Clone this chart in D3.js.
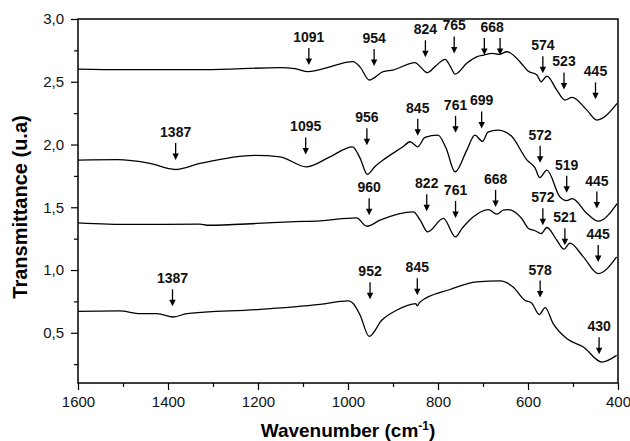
<!DOCTYPE html>
<html>
<head>
<meta charset="utf-8">
<script src="https://cdn.jsdelivr.net/npm/d3@7"></script>
<style>
  body { margin: 0; background: #fff; }
  svg { display: block; font-family: "Liberation Sans", Arial, sans-serif; }
</style>
</head>
<body>
<div class="svg"></div>
<script>
// spectra, top to bottom (wavenumber, transmittance)
const waves1 = [1600,1500,1318,1151,1118,1089,1062,989,973,953,922,900,851,838,824,804,784,773,762,736,713,698,680,664,647,618,600,580,571,558,536,518,502,469,447,402];
const trans1 = [2.601,2.596,2.596,2.612,2.605,2.581,2.597,2.660,2.617,2.514,2.580,2.593,2.653,2.615,2.572,2.630,2.679,2.625,2.561,2.647,2.700,2.713,2.726,2.718,2.739,2.660,2.585,2.553,2.500,2.545,2.434,2.354,2.376,2.274,2.195,2.328];

const waves2 = [1600,1513,1440,1384,1329,1207,1151,1093,1040,990,973,957,940,922,878,862,845,829,800,782,762,736,718,701,689,667,638,602,584,574,558,529,514,502,469,444,402];
const trans2 = [1.876,1.879,1.849,1.801,1.849,1.913,1.902,1.822,1.902,1.982,1.890,1.762,1.825,1.876,1.982,2.022,1.982,2.057,2.075,1.970,1.782,1.955,2.075,2.025,2.099,2.115,2.071,1.876,1.812,1.736,1.796,1.583,1.553,1.569,1.451,1.389,1.530];

const waves3 = [1600,1484,1329,1313,1202,1129,1062,981,958,929,855,840,823,788,761,747,722,688,670,655,644,614,599,584,571,558,536,520,507,477,444,403];
const trans3 = [1.376,1.363,1.365,1.357,1.371,1.384,1.392,1.415,1.349,1.397,1.463,1.400,1.304,1.411,1.264,1.330,1.423,1.482,1.445,1.477,1.482,1.411,1.331,1.313,1.290,1.339,1.238,1.166,1.214,1.105,0.972,1.105];

const waves4 = [1600,1507,1462,1424,1388,1358,1202,1062,999,989,973,953,925,892,849,846,840,773,714,662,633,607,592,575,562,544,514,477,436,403];
const trans4 = [0.671,0.674,0.653,0.653,0.626,0.653,0.685,0.727,0.754,0.735,0.640,0.472,0.600,0.680,0.733,0.715,0.746,0.845,0.905,0.913,0.865,0.759,0.738,0.645,0.700,0.573,0.454,0.387,0.267,0.320];

// peak labels: text, arrow wavenumber(s), arrow tip transmittance
const marks1 = [["1091",[1087],2.633],["954",[942],2.625],["824",[828],2.695],["765",[764],2.726],["668",[697,662],2.713],["574",[567],2.567],["523",[520],2.439],["445",[450],2.360]];
const marks2 = [["1387",[1383],1.876],["1095",[1094],1.921],["956",[958],1.995],["845",[845],2.069],["761",[761],2.093],["699",[703],2.128],["572",[573],1.854],["519",[514],1.615],["445",[447],1.490]];
const marks3 = [["960",[953],1.437],["822",[825],1.469],["761",[761],1.415],["668",[672],1.503],["572",[567],1.357],["521",[518],1.198],["445",[444],1.065]];
const marks4 = [["1387",[1390],0.711],["952",[951],0.767],["845",[846],0.799],["578",[573],0.781],["430",[442],0.329]];

const xMajor = [1600,1400,1200,1000,800,600,400];
const xMinor = [1500,1300,1100,900,700,500];
const yMajor = [0.5,1.0,1.5,2.0,2.5,3.0];
const yMinor = [0.25,0.75,1.25,1.75,2.25,2.75];

const width = 630, height = 441;
const plotL = 78, plotT = 19, plotR = 618, plotB = 383;

const svg = d3.select('.svg').append('svg').attr('width', width).attr('height', height);

const scaleX = d3.scaleLinear().domain([1600, 400]).range([plotL, plotR]);
const scaleY = d3.scaleLinear().domain([0.1, 3.0]).range([plotB, plotT]);
const fmt = d => d3.format('.1f')(d).replace('.', ',');

// minor ticks first, then major ticks with labels
svg.append('g').attr('transform', 'translate(0,' + plotB + ')')
  .call(d3.axisBottom(scaleX).tickValues(xMinor).tickSize(4).tickSizeOuter(0).tickFormat(''));
svg.append('g').attr('transform', 'translate(0,' + plotB + ')')
  .call(d3.axisBottom(scaleX).tickValues(xMajor).tickSize(7).tickSizeOuter(0).tickPadding(6).tickFormat(d3.format('d')));
svg.append('g').attr('transform', 'translate(' + plotL + ',0)')
  .call(d3.axisLeft(scaleY).tickValues(yMinor).tickSize(4).tickSizeOuter(0).tickFormat(''));
svg.append('g').attr('transform', 'translate(' + plotL + ',0)')
  .call(d3.axisLeft(scaleY).tickValues(yMajor).tickSize(7).tickSizeOuter(0).tickPadding(7).tickFormat(fmt));

svg.selectAll('.domain').remove();
svg.selectAll('.tick line').attr('stroke', '#000').attr('stroke-width', 1.2);
svg.selectAll('.tick text').attr('font-size', 15).attr('fill', '#111')
  .attr('font-family', '"Liberation Sans", Arial, sans-serif');

svg.append('rect')
  .attr('x', plotL).attr('y', plotT)
  .attr('width', plotR - plotL).attr('height', plotB - plotT)
  .attr('fill', 'none').attr('stroke', '#000').attr('stroke-width', 1.5);

const line = d3.line()
  .x(d => scaleX(d[0]))
  .y(d => scaleY(d[1]))
  .curve(d3.curveMonotoneX);

const series = [[waves1, trans1], [waves2, trans2], [waves3, trans3], [waves4, trans4]];
series.forEach(function (s) {
  svg.append('path')
    .datum(s[0].map((w, i) => [w, s[1][i]]))
    .attr('d', line)
    .attr('fill', 'none')
    .attr('stroke', '#000')
    .attr('stroke-width', 1.3);
});

// arrows and peak labels
const arrowLen = 17;
[marks1, marks2, marks3, marks4].forEach(function (marks) {
  marks.forEach(function (m) {
    const tipY = scaleY(m[2]);
    m[1].forEach(function (w) {
      const ax = scaleX(w);
      svg.append('line')
        .attr('x1', ax).attr('x2', ax)
        .attr('y1', tipY - arrowLen).attr('y2', tipY - 5)
        .attr('stroke', '#000').attr('stroke-width', 1.3);
      svg.append('path')
        .attr('d', 'M' + (ax - 3.2) + ',' + (tipY - 6.5) + 'L' + (ax + 3.2) + ',' + (tipY - 6.5) + 'L' + ax + ',' + tipY + 'Z')
        .attr('fill', '#000');
    });
    const lx = d3.mean(m[1], w => scaleX(w));
    svg.append('text')
      .attr('x', lx)
      .attr('y', tipY - arrowLen - 6)
      .attr('text-anchor', 'middle')
      .attr('font-size', 14)
      .attr('font-weight', 'bold')
      .attr('fill', '#111')
      .text(m[0]);
  });
});

// axis titles
svg.append('text')
  .attr('transform', 'translate(27,207) rotate(-90)')
  .attr('text-anchor', 'middle')
  .attr('font-size', 20)
  .attr('font-weight', 'bold')
  .text('Transmittance (u.a)');

const xt = svg.append('text')
  .attr('x', (plotL + plotR) / 2)
  .attr('y', 437)
  .attr('text-anchor', 'middle')
  .attr('font-size', 19)
  .attr('font-weight', 'bold');
xt.append('tspan').text('Wavenumber (cm');
xt.append('tspan').attr('dy', -7).attr('font-size', 12).text('-1');
xt.append('tspan').attr('dy', 7).text(')');
</script>
</body>
</html>
